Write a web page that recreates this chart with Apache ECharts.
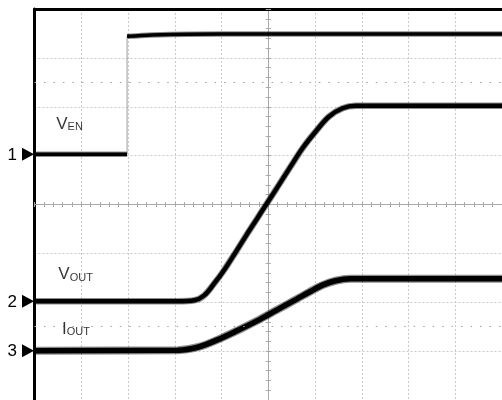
<!DOCTYPE html>
<html><head><meta charset="utf-8">
<script src="https://cdn.jsdelivr.net/npm/echarts@6/dist/echarts.min.js"></script>
<style>html,body{margin:0;padding:0;background:#fff}#c{width:502px;height:400px}</style>
</head><body><div id="c"></div>
<script>
// Screen is 10 x 8 divisions, centred on (0,0). Values are in divisions.
const venLow  = [[-5, 1.03], [-3.02, 1.03]];
const venEdge = [[-3.02, 1.03], [-3.02, 3.44]];
const venHigh = [[-3.02, 3.44], [-2.5, 3.47], [-1, 3.49], [5, 3.49]];
const vout = [[-5,-1.98],[-1.93,-1.98],[-1.58,-1.96],[-1.37,-1.86],[-1.16,-1.62],[-0.95,-1.35],
  [-0.70,-0.98],[-0.45,-0.60],[-0.24,-0.29],[-0.03,0.02],[0.18,0.33],[0.46,0.75],[0.74,1.16],
  [1.02,1.50],[1.30,1.80],[1.59,1.97],[1.87,2.02],[5,2.02]];
const iout = [[-5,-2.99],[-1.93,-2.98],[-1.51,-2.92],[-1.09,-2.77],[-0.66,-2.58],[-0.24,-2.38],
  [0.18,-2.16],[0.60,-1.94],[0.88,-1.79],[1.16,-1.65],[1.44,-1.56],[1.75,-1.52],[5,-1.52]];
const markerLevels = [1.03, -1.98, -2.99];
const markerDigits = {'1': '1', '-2': '2', '-3': '3'};
const captionX = [-4.525, -4.48, -4.40];
const captionY = [1.457, -1.62, -2.73];
const captionMain = ['V', 'V', 'I'];
const captionSub = ['EN', 'OUT', 'OUT'];
const dotRows = [2.5, -2.5];

const FONT = '"Liberation Sans", Arial, Helvetica, sans-serif';
const chart = echarts.init(document.getElementById('c'), null, {renderer: 'canvas'});
const gridLine = {show: true, lineStyle: {color: '#cacaca', width: 1, type: [2, 2]}};
const centerCol = '#a8a8a8';
function centerAxis(kind, inside) {
  return {
    type: 'value', min: kind === 'x' ? -5 : -4, max: kind === 'x' ? 5 : 4, interval: 1,
    position: kind === 'x' ? 'bottom' : 'left',
    axisLine: {show: true, onZero: true, lineStyle: {color: centerCol, width: 1}},
    axisTick: {show: true, inside: inside, length: 2.5, lineStyle: {color: centerCol}},
    minorTick: {show: true, splitNumber: 5, length: 2.5, lineStyle: {color: centerCol}},
    axisLabel: {show: false}, splitLine: {show: false}
  };
}
function trace(data, core, fuzz, smooth) {
  return [
    {type: 'line', data: data, symbol: 'none', silent: true, z: 3, smooth: smooth,
     lineStyle: {color: 'rgba(0,0,0,0.45)', width: fuzz}},
    {type: 'line', data: data, symbol: 'none', silent: true, z: 4, smooth: smooth,
     lineStyle: {color: '#000', width: core}}
  ];
}
const series = [].concat(
  trace(venLow, 3.5, 5.5, false), trace(venHigh, 3.5, 5.5, 0.3),
  [{type: 'line', data: venEdge, symbol: 'none', silent: true, z: 3,
    lineStyle: {color: '#9a9a9a', width: 1}}],
  trace(vout, 4.5, 6.5, 0.35), trace(iout, 5.5, 8, 0.35),
  [{type: 'line', data: [[-5, 0]], symbol: 'none', silent: true, lineStyle: {opacity: 0},
    markLine: {silent: true, symbol: 'none', label: {show: false}, animation: false,
      lineStyle: {color: '#a0a0a0', width: 1, type: [1.5, 7.98]},
      data: dotRows.map(v => ({yAxis: v}))}},
   {type: 'scatter', data: markerLevels.map(v => [-5, v]), clip: false, silent: true, z: 6,
    symbol: 'path://M0,0 L12,6.5 L0,13 Z', symbolKeepAspect: false, symbolSize: [12, 13],
    symbolOffset: [-6.5, 0], itemStyle: {color: '#000', opacity: 1}},
   {type: 'scatter', silent: true, z: 6, symbolSize: 1, itemStyle: {color: 'rgba(0,0,0,0)'},
    data: captionX.map((x, i) => [x, captionY[i], captionMain[i], captionSub[i]]),
    label: {show: true, position: [0, 0], align: 'left', verticalAlign: 'bottom',
      formatter: p => '{m|' + p.data[2] + '}{s|' + p.data[3] + '}',
      rich: {
        m: {fontSize: 17, lineHeight: 17, fontFamily: FONT, color: '#000', verticalAlign: 'bottom'},
        s: {fontSize: 11, lineHeight: 11, fontFamily: FONT, color: '#000', verticalAlign: 'bottom'}
      }}}]
);
chart.setOption({
  animation: false,
  backgroundColor: '#fff',
  grid: {left: 34.5, top: 9, width: 474, height: 395, containLabel: false},
  xAxis: [
    {type: 'value', min: -5, max: 5, interval: 1, position: 'top',
     axisLine: {show: true, onZero: false, lineStyle: {color: '#000', width: 3}},
     axisTick: {show: false}, axisLabel: {show: false}, splitLine: gridLine},
    centerAxis('x', false), centerAxis('x', true)
  ],
  yAxis: [
    {type: 'value', min: -4, max: 4, interval: 1, position: 'left',
     axisLine: {show: true, onZero: false, lineStyle: {color: '#000', width: 3}},
     axisTick: {show: false}, splitLine: gridLine,
     axisLabel: {show: true, margin: 17.5, fontSize: 17, fontFamily: FONT, color: '#000',
       formatter: v => markerDigits[String(v)] || ''}},
    centerAxis('y', false), centerAxis('y', true)
  ],
  series: series
});
</script></body></html>
